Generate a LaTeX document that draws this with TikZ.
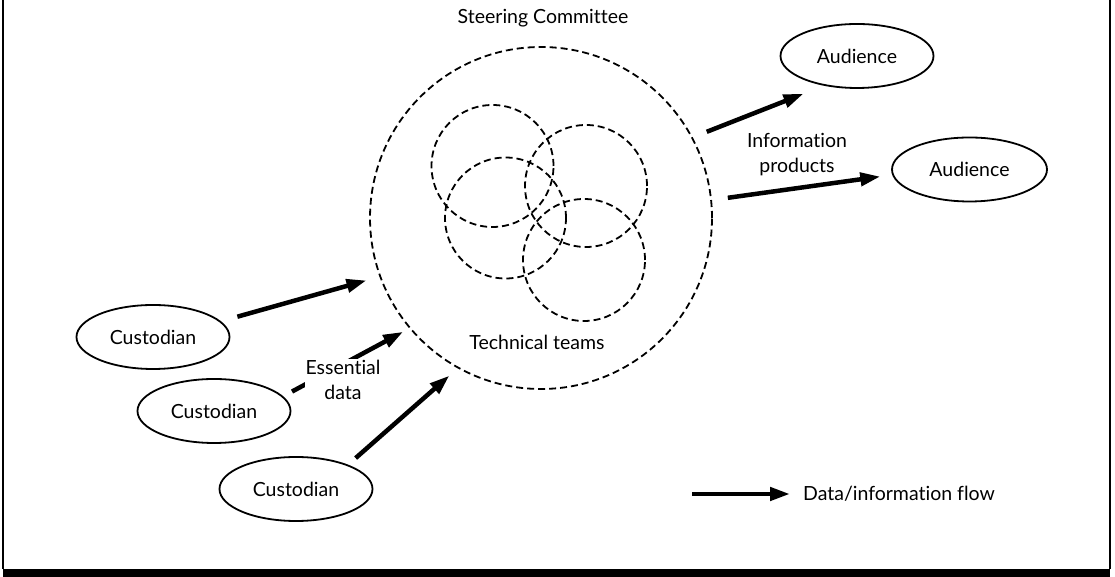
\documentclass[tikz,border=0pt]{standalone}
\usepackage{fontspec}
\setmainfont{Lato}[Ligatures=NoCommon]
\usetikzlibrary{shapes.geometric,arrows.meta}

\begin{document}
\begin{tikzpicture}[x=1pt,y=1pt,
                    font=\fontsize{19.5}{25}\selectfont,
                    party/.style={ellipse,draw,line width=1.8pt,minimum width=153pt,minimum height=64pt,inner sep=0pt},
                    team/.style={circle,draw,line width=1.8pt,dash pattern=on 7pt off 4pt,inner sep=0pt},
                    flow/.style={line width=4.5pt,-{Triangle[length=20pt,width=13pt]}}
]
\useasboundingbox (0,0) rectangle (1115,577);

% frame
\draw[line width=1.5pt] (3,577) -- (3,8);
\draw[line width=1.5pt] (1110,577) -- (1110,8);
\fill (3,0) rectangle (1110,8);

% steering committee and technical teams
\node [team, minimum size=342pt] at (541,359) (sc) {};
\node [team, minimum size=122pt] at (492.5,411) (tt1) {};
\node [team, minimum size=122pt] at (586,391) (tt2) {};
\node [team, minimum size=121pt] at (505.5,359) (tt3) {};
\node [team, minimum size=122pt] at (584,317) (tt4) {};
\node at (543,559) (steer) {Steering Committee};
\node at (537,235) (tech) {Technical teams};

% custodians and audiences
\node [party] at (153,240) (cust1) {Custodian};
\node [party] at (214,166) (cust2) {Custodian};
\node [party] at (296,88) (cust3) {Custodian};
\node [party] at (857,521) (aud1) {Audience};
\node [party, minimum width=155pt] at (969.5,407.5) (aud2) {Audience};
%
\draw [flow, shorten <=17pt, shorten >=13.5pt] (cust1.13) -- (sc.200);
\draw [flow, shorten <=10pt, shorten >=7pt] (cust2.12) -- (sc.220);
\draw [flow, shorten <=10pt, shorten >=11pt] (cust3.25) -- (sc.241);
\node [fill=white, align=center, inner sep=1pt] at (343,197) (ess) {Essential\\data};

\draw [flow, shorten <=15pt, shorten >=22pt] (sc.28) -- (aud1.222);
\draw [flow, shorten <=16pt, shorten >=12pt] (sc.6) -- (aud2.184);
\node [align=center] at (797,422) (info) {Information\\products};

% legend
\coordinate (lg) at (692,83);
\node [anchor=west, inner sep=3pt] at (800,83) (lgtext) {Data/information flow};
\draw [flow, shorten >=10pt] (lg) -- (lgtext.west);
\end{tikzpicture}
\end{document}
